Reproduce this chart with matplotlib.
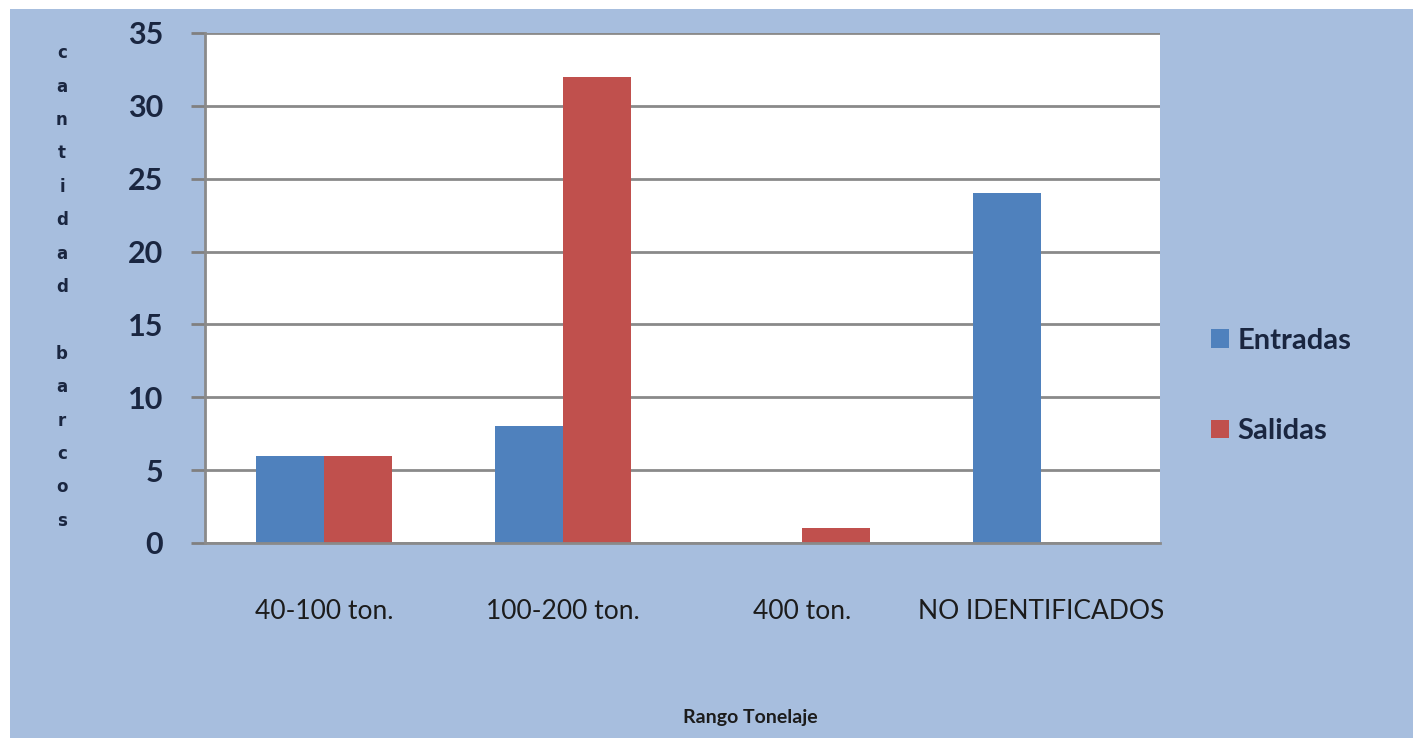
import numpy as np
import matplotlib
matplotlib.use("Agg")
import matplotlib.pyplot as plt
from matplotlib.patches import Rectangle

# Datos del grafico
rangos = ["40-100 ton.", "100-200 ton.", "400 ton.", "NO IDENTIFICADOS"]
entradas = [6, 8, 0, 24]
salidas = [6, 32, 1, 0]
ticks_y = [0, 5, 10, 15, 20, 25, 30, 35]

azul = "#4f81bd"
rojo = "#c0504d"
fondo = "#a7bede"
texto = "#1a2640"
fuente = ["Lato", "DejaVu Sans"]

fig = plt.figure(figsize=(14.2, 7.38), dpi=100, facecolor="white")
# fondo azul del area del grafico (con borde blanco arriba, izquierda y derecha)
fig.patches.append(Rectangle((10 / 1420, 0), 1403 / 1420, 729 / 738,
                             transform=fig.transFigure, facecolor=fondo,
                             edgecolor="none", zorder=-5))

ax = fig.add_axes([205 / 1420, 1 - 543 / 738, 955 / 1420, 510 / 738])
ax.set_zorder(2)
ax.set_facecolor("white")

x = np.arange(len(rangos))
ancho = 0.285
ax.bar(x - ancho / 2, entradas, ancho, color=azul, label="Entradas", zorder=3)
ax.bar(x + ancho / 2, salidas, ancho, color=rojo, label="Salidas", zorder=3)

ax.set_xlim(-0.5, len(rangos) - 0.5)
ax.set_ylim(0, 35)
ax.set_yticks(ticks_y)
ax.set_yticklabels([str(t) for t in ticks_y], family=fuente, fontsize=22,
                   fontweight="bold", color=texto)
ax.set_xticks(x)
ax.set_xticklabels(rangos, family=fuente, fontsize=19, color="#1c1c1c")
ax.tick_params(axis="y", length=10, width=2, color="#808080", pad=20)
ax.tick_params(axis="x", length=0, pad=40)
ax.grid(axis="y", color="#8a8a8a", linewidth=2, zorder=1)

for lado in ["top", "right"]:
    ax.spines[lado].set_visible(False)
ax.spines["left"].set_color("#8a8a8a")
ax.spines["left"].set_linewidth(2)
ax.spines["bottom"].set_color("#8a8a8a")
ax.spines["bottom"].set_linewidth(2)
ax.spines["bottom"].set_zorder(4)

# etiqueta del eje y con letras apiladas
fig.text(62 / 1420, 1 - 287 / 738, "\n".join("cantidad barcos"),
         ha="center", va="center", fontsize=12, fontweight="bold",
         color=texto, linespacing=2.1, family="DejaVu Sans")

fig.text(750 / 1420, 1 - 717 / 738, "Rango Tonelaje", ha="center",
         va="center", fontsize=14, fontweight="bold", color="#1c1c1c",
         family=fuente)

ax.legend(loc="center left", bbox_to_anchor=(1185 / 1420, 1 - 386 / 738),
          bbox_transform=fig.transFigure, frameon=False,
          prop={"family": fuente, "size": 21, "weight": "bold"},
          handlelength=0.6, handleheight=0.6, handletextpad=0.3,
          labelspacing=2.2, labelcolor=texto)

fig.savefig("out.png", dpi=100, facecolor="white")
